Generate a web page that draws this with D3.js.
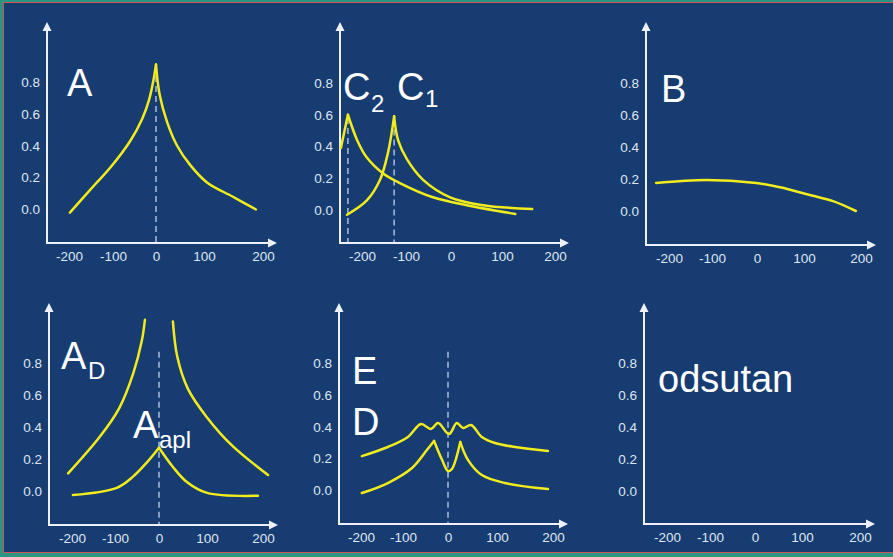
<!DOCTYPE html>
<html>
<head>
<meta charset="utf-8">
<script src="https://cdn.jsdelivr.net/npm/d3@7"></script>
<style>
  body { margin: 0; background: #2a9583; }
  svg { display: block; font-family: "Liberation Sans", Arial, Helvetica, sans-serif; }
</style>
</head>
<body>
<svg id="chart" width="893" height="557"></svg>
<script>
// tick values shared by every panel
var xTicks = [-200, -100, 0, 100, 200];
var yTicks = [0, 0.2, 0.4, 0.6, 0.8];

// curves as [x, value]
var curveA = [[-198,-0.02],[-140,0.16],[-107,0.26],[-60,0.43],[-32,0.57],[-16,0.69],[-6,0.81],[0,0.91],
              [7,0.73],[23,0.55],[44,0.40],[71,0.28],[105,0.17],[149,0.08],[188,0.0]];

var curveC2 = [[-248,0.39],[-232,0.60],[-211,0.44],[-189,0.33],[-152,0.23],[-114,0.17],
               [-40,0.08],[31,0.03],[125,-0.025]];
var curveC1 = [[-234,-0.03],[-189,0.06],[-159,0.19],[-141,0.36],[-127,0.59],[-118,0.44],
               [-98,0.32],[-62,0.19],[-2,0.08],[63,0.03],[157,0.006]];

var curveB = [[-230,0.175],[-114,0.194],[-2,0.175],[49,0.148],[110,0.10],[151,0.062],[191,0.0]];

var curveADleft  = [[-209,0.11],[-135,0.34],[-90,0.52],[-58,0.74],[-39,0.94],[-32,1.07]];
var curveADright = [[29,1.06],[38,0.84],[60,0.64],[100,0.46],[146,0.28],[209,0.10]];
var curveAapl = [[-198,-0.025],[-96,0.02],[-59,0.09],[-27,0.18],[0,0.27],[29,0.15],
                 [58,0.056],[100,-0.012],[191,-0.03]];

var curveE = [[-198,0.216],[-136,0.273],[-89,0.336],[-60,0.417],[-38,0.386],[-22,0.423],
              [2,0.354],[18,0.423],[31,0.392],[47,0.411],[69,0.336],[96,0.298],[132,0.273],[191,0.248]];
var curveD = [[-198,-0.016],[-136,0.047],[-80,0.141],[-47,0.254],[-31,0.311],[-13,0.191],
              [0,0.122],[8,0.135],[25,0.304],[41,0.191],[69,0.097],[114,0.047],[191,0.009]];

// sharp peaks (x) where a curve is drawn as a cusp
var cuspA = [0], cuspC2 = [-232], cuspC1 = [-127], cuspAapl = [0], cuspD = [-31, 25];

// dashed markers: [x, top value]
var dashA  = [[0, 0.90]];
var dashC  = [[-232, 0.58], [-127, 0.57]];
var dashAD = [[0, 0.87]];
var dashED = [[0, 0.87]];

// panel layout (pixels)
var panels = [
  { ax: 47,  ay: 243, top: 22,  right: 277, xPx: [69,113,156,204,263], y0: 209.5, y8: 82,
    series: [[curveA, cuspA]], dashes: dashA,
    labels: [ {t:"A", x:67, y:96} ] },
  { ax: 340, ay: 243, top: 22,  right: 569, xPx: [362,406,451,502,555], y0: 210, y8: 83,
    series: [[curveC2, cuspC2], [curveC1, cuspC1]], dashes: dashC,
    labels: [ {t:"C", x:343, y:100}, {t:"2", x:371, y:112, s:24},
              {t:"C", x:397, y:100}, {t:"1", x:425, y:107, s:24} ] },
  { ax: 646, ay: 245, top: 22,  right: 876, xPx: [669,712,757,804,861], y0: 211, y8: 83,
    series: [[curveB, []]], dashes: [],
    labels: [ {t:"B", x:661, y:102} ] },
  { ax: 49,  ay: 525, top: 303, right: 278, xPx: [72,115,159,207,263], y0: 491, y8: 363,
    series: [[curveADleft, []], [curveADright, []], [curveAapl, cuspAapl]], dashes: dashAD,
    labels: [ {t:"A", x:61, y:369}, {t:"D", x:88, y:379, s:24},
              {t:"A", x:133, y:438}, {t:"apl", x:159, y:448, s:24} ] },
  { ax: 339, ay: 524, top: 303, right: 568, xPx: [361,403,448,497,553], y0: 490.5, y8: 363,
    series: [[curveE, []], [curveD, cuspD]], dashes: dashED,
    labels: [ {t:"E", x:352, y:384}, {t:"D", x:352, y:435} ] },
  { ax: 644, ay: 524, top: 303, right: 875, xPx: [667,710,755,802,860], y0: 491, y8: 363,
    series: [], dashes: [],
    labels: [ {t:"odsutan", x:658, y:392} ] }
];

// split a curve at its cusp points so each piece is smoothed on its own
function splitAt ( pts, cusps ) {
  var pieces = [];
  var cur = [];
  for ( var i = 0 ; i < pts.length ; i++ ) {
    cur.push( pts[i] );
    if ( cusps.indexOf( pts[i][0] ) >= 0 && i > 0 && i < pts.length - 1 ) {
      pieces.push( cur );
      cur = [ pts[i] ];
    }
  }
  pieces.push( cur );
  return pieces;
}

var svg = d3.select("#chart");

// slide background
svg.append("rect").attr("x", 0).attr("y", 0).attr("width", 893).attr("height", 557)
  .attr("fill", "#2a9583");
svg.append("rect").attr("x", 3.5).attr("y", 2.5).attr("width", 895).attr("height", 550)
  .attr("fill", "#173c72").attr("stroke", "#c8585a").attr("stroke-width", 1);

var axisColor = "#eef2f8";

panels.forEach(function (p) {
  var x = d3.scaleLinear().domain(xTicks).range(p.xPx);
  var y = d3.scaleLinear().domain([0, 0.8]).range([p.y0, p.y8]);
  var g = svg.append("g");

  // dashed markers
  p.dashes.forEach(function (d) {
    g.append("line")
      .attr("x1", x(d[0])).attr("x2", x(d[0]))
      .attr("y1", y(d[1])).attr("y2", p.ay)
      .attr("stroke", "#a9bfdc").attr("stroke-width", 1.5)
      .attr("stroke-dasharray", "6,4");
  });

  // axes lines with arrows
  g.append("line").attr("x1", p.ax).attr("x2", p.ax).attr("y1", p.ay).attr("y2", p.top + 6)
    .attr("stroke", axisColor).attr("stroke-width", 2);
  g.append("line").attr("x1", p.ax - 1).attr("x2", p.right - 6).attr("y1", p.ay).attr("y2", p.ay)
    .attr("stroke", axisColor).attr("stroke-width", 2);
  g.append("path")
    .attr("d", "M" + p.ax + "," + p.top + "L" + (p.ax + 4.5) + "," + (p.top + 9) + "L" + (p.ax - 4.5) + "," + (p.top + 9) + "Z")
    .attr("fill", axisColor);
  g.append("path")
    .attr("d", "M" + p.right + "," + p.ay + "L" + (p.right - 9) + "," + (p.ay - 4.5) + "L" + (p.right - 9) + "," + (p.ay + 4.5) + "Z")
    .attr("fill", axisColor);

  // tick labels through d3 axes
  var xa = g.append("g").attr("transform", "translate(0," + (p.ay + 8) + ")")
    .call(d3.axisBottom(x).tickValues(xTicks).tickSize(0).tickPadding(0)
      .tickFormat(function (d) { return String(d); }));
  var ya = g.append("g").attr("transform", "translate(" + (p.ax - 7) + ",0)")
    .call(d3.axisLeft(y).tickValues(yTicks).tickSize(0).tickPadding(0).tickFormat(d3.format(".1f")));
  [xa, ya].forEach(function (a) {
    a.select(".domain").remove();
    a.selectAll("text").attr("fill", "#dfe6f0").style("font-size", "13.5px")
      .style("font-family", "'Liberation Sans', Arial, sans-serif");
  });
  xa.selectAll("text").attr("dy", "0.71em");

  // curves
  var line = d3.line().x(function (d) { return x(d[0]); }).y(function (d) { return y(d[1]); })
    .curve(d3.curveCatmullRom.alpha(0.5));
  p.series.forEach(function (s) {
    splitAt(s[0], s[1]).forEach(function (piece) {
      g.append("path").datum(piece).attr("d", line)
        .attr("fill", "none").attr("stroke", "#f2ec1c").attr("stroke-width", 2.5)
        .attr("stroke-linecap", "round").attr("stroke-linejoin", "round");
    });
  });

  // panel letters
  p.labels.forEach(function (l) {
    g.append("text").attr("x", l.x).attr("y", l.y).text(l.t)
      .attr("fill", "#ffffff").style("font-size", (l.s || 38) + "px");
  });
});
</script>
</body>
</html>
